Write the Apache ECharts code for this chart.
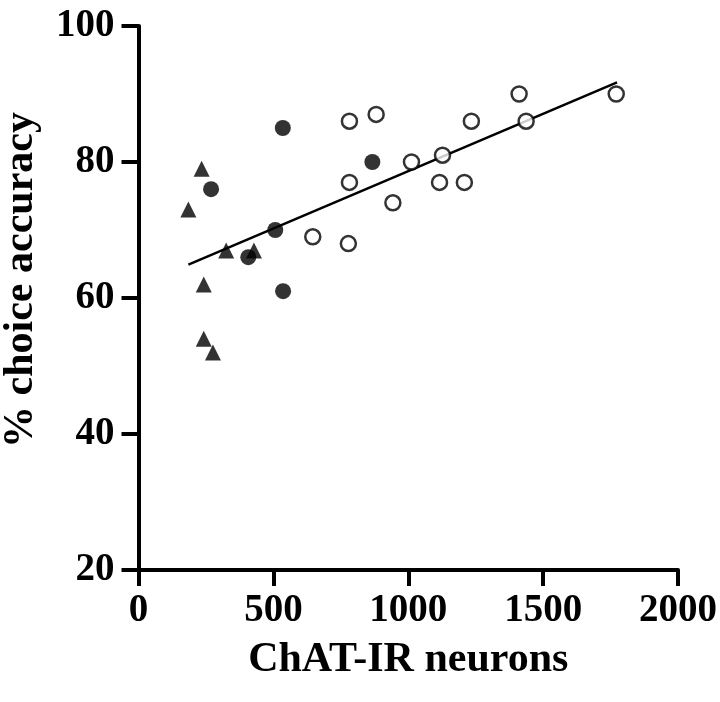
<!DOCTYPE html>
<html>
<head>
<meta charset="utf-8">
<script src="https://cdn.jsdelivr.net/npm/echarts@6/dist/echarts.min.js"></script>
<style>
  html, body { margin: 0; padding: 0; background: #fff; }
  #main { width: 720px; height: 702px; }
</style>
</head>
<body>
<div id="main"></div>
<script>
// triangles
const triX = [234, 185, 325, 428, 242, 242, 276];
const triY = [79, 73, 67, 67, 62, 54, 52];
// filled circles
const dotX = [269, 407, 507, 536, 867, 535];
const dotY = [76, 66, 70, 61, 80, 85];
// open circles
const ringX = [1012, 782, 943, 646, 778, 782, 881, 1411, 1771, 1234, 1437, 1127, 1116, 1208];
const ringY = [80, 77, 74, 69, 68, 86, 87, 90, 90, 86, 86, 81, 77, 77];
// regression line endpoints
const fitX = [185, 1774];
const fitY = [64.9, 91.7];

const xTicks = [0, 500, 1000, 1500, 2000];
const yTicks = [20, 40, 60, 80, 100];

const font = "Liberation Serif";

function pairs(xs, ys) {
  return xs.map((x, i) => [x, ys[i]]);
}

function scatterOption() {
  return {
    backgroundColor: "#fff",
    animation: false,
    grid: { left: 138.5, right: 42, top: 26, bottom: 132, containLabel: false, outerBoundsMode: "none" },
    xAxis: {
      type: "value",
      min: xTicks[0],
      max: xTicks[xTicks.length - 1],
      interval: 500,
      name: "ChAT-IR neurons",
      nameLocation: "middle",
      nameGap: 69,
      nameTextStyle: { fontFamily: font, fontWeight: "bold", fontSize: 42, color: "#000" },
      axisLine: { lineStyle: { color: "#000", width: 4 } },
      axisTick: { length: 16, lineStyle: { color: "#000", width: 4 } },
      axisLabel: {
        fontFamily: font, fontWeight: "bold", fontSize: 39, color: "#000", margin: 21,
        formatter: (v) => String(v),
      },
      splitLine: { show: false },
    },
    yAxis: {
      type: "value",
      min: yTicks[0],
      max: yTicks[yTicks.length - 1],
      interval: 20,
      name: "% choice accuracy",
      nameLocation: "middle",
      nameGap: 96,
      nameTextStyle: {
        fontFamily: font, fontWeight: "bold", fontSize: 42, color: "#000",
        padding: [0, 0, 0, 36],
      },
      axisLine: { lineStyle: { color: "#000", width: 4 } },
      axisTick: { length: 17, lineStyle: { color: "#000", width: 4 } },
      axisLabel: {
        fontFamily: font, fontWeight: "bold", fontSize: 39, color: "#000", margin: 24,
        formatter: (v) => String(v),
      },
      splitLine: { show: false },
    },
    series: [
      {
        type: "line",
        data: pairs(fitX, fitY),
        symbol: "none",
        lineStyle: { color: "#000", width: 2.5 },
        z: 1,
      },
      {
        type: "scatter",
        data: pairs(triX, triY),
        symbol: "triangle",
        symbolSize: 16,
        itemStyle: { color: "#000" },
        z: 3,
      },
      {
        type: "scatter",
        data: pairs(dotX, dotY),
        symbol: "circle",
        symbolSize: 16,
        itemStyle: { color: "#000" },
        z: 3,
      },
      {
        type: "scatter",
        data: pairs(ringX, ringY),
        symbol: "circle",
        symbolSize: 15,
        itemStyle: { color: "#fff", borderColor: "#000", borderWidth: 2.5 },
        z: 3,
      },
    ],
  };
}

addEventListener("load", () => {
  const chart = echarts.init(document.getElementById("main"));
  chart.setOption(scatterOption());
});
</script>
</body>
</html>
